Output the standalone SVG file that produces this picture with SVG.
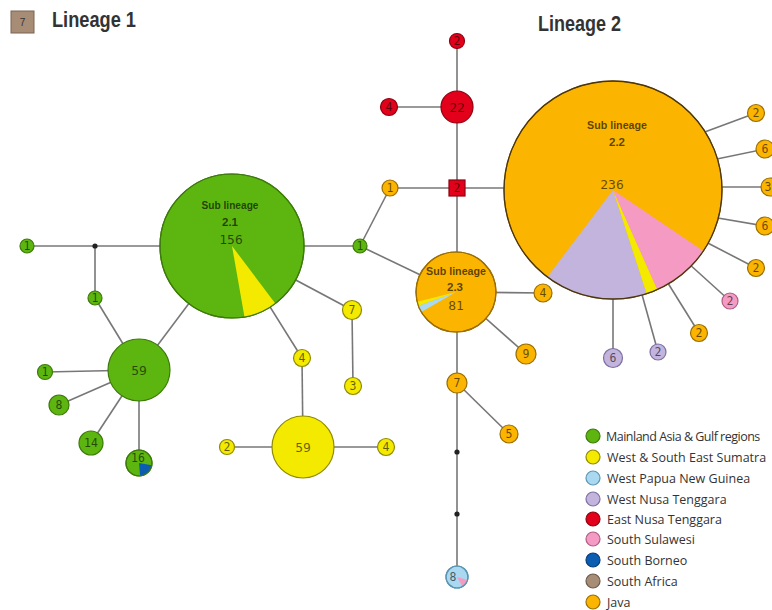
<svg xmlns="http://www.w3.org/2000/svg" width="772" height="610" viewBox="0 0 772 610">
<style>
.c{stroke:#777;stroke-width:1.6;fill:none}
.n{font-family:"DejaVu Sans Mono",monospace;fill:#000;fill-opacity:.6;text-anchor:middle;dominant-baseline:central;font-size:11.5px}
.big{font-size:13px}
.sl{font-family:"Liberation Sans",Arial,sans-serif;font-weight:bold;fill:#000;fill-opacity:.65;text-anchor:middle;font-size:11.5px}
.h{font-family:"Liberation Sans",Arial,sans-serif;font-weight:bold;fill:#333;font-size:22px}
.lg{font-family:"Open Sans","Liberation Sans",sans-serif;fill:#333;font-size:12.5px}
.g{fill:#5db50f;stroke:#3c7a0a;stroke-width:1.2}
.y{fill:#f4ea00;stroke:#8f8a00;stroke-width:1.2}
.o{fill:#fbb400;stroke:#9a6e00;stroke-width:1.2}
.r{fill:#e3001b;stroke:#8e0010;stroke-width:1.2}
.lv{fill:#c2b4dc;stroke:#7d70a2;stroke-width:1.2}
.pk{fill:#f59bc3;stroke:#b05c85;stroke-width:1.2}
.lb{fill:#a9d8f0;stroke:#5b97b3;stroke-width:1.2}
.bl{fill:#0b5db1;stroke:#063c78;stroke-width:1.2}
.br{fill:#a78c76;stroke:#6e5a4a;stroke-width:1.2}
.w{stroke:none}
</style>

<g id="header">
<rect x="11" y="11" width="23" height="22" fill="#a78c76" stroke="#7a6555" stroke-width="1"/>
<text x="22.5" y="26" font-family="Liberation Sans,Arial,sans-serif" font-size="10" fill="#333" text-anchor="middle">7</text>
<text class="h" x="52" y="27" textLength="84" lengthAdjust="spacingAndGlyphs">Lineage 1</text>
<text class="h" x="538" y="31" textLength="83" lengthAdjust="spacingAndGlyphs">Lineage 2</text>
</g>

<g id="connectors">
<line class="c" x1="27" y1="246" x2="360" y2="246"/>
<line class="c" x1="95" y1="246" x2="95" y2="298"/>
<line class="c" x1="95" y1="298" x2="139" y2="370"/>
<line class="c" x1="232" y1="246" x2="139" y2="370"/>
<line class="c" x1="232" y1="246" x2="352" y2="310"/>
<line class="c" x1="232" y1="246" x2="302" y2="358"/>
<line class="c" x1="352" y1="310" x2="353" y2="386"/>
<line class="c" x1="302" y1="358" x2="303" y2="447"/>
<line class="c" x1="227" y1="447" x2="386" y2="447"/>
<line class="c" x1="45" y1="372" x2="139" y2="370"/>
<line class="c" x1="59" y1="405" x2="139" y2="370"/>
<line class="c" x1="91" y1="443" x2="139" y2="370"/>
<line class="c" x1="139" y1="370" x2="139" y2="463"/>
<line class="c" x1="360" y1="246" x2="390" y2="188"/>
<line class="c" x1="360" y1="246" x2="456" y2="292"/>
<line class="c" x1="390" y1="188" x2="612" y2="188"/>
<line class="c" x1="457" y1="41" x2="457" y2="577"/>
<line class="c" x1="389" y1="107" x2="457" y2="107"/>
<line class="c" x1="456" y1="292" x2="543" y2="293"/>
<line class="c" x1="456" y1="292" x2="526" y2="354"/>
<line class="c" x1="457" y1="383" x2="509" y2="434"/>
<line class="c" x1="702" y1="133" x2="756" y2="113"/>
<line class="c" x1="712" y1="160" x2="765" y2="149"/>
<line class="c" x1="712" y1="187" x2="770" y2="187"/>
<line class="c" x1="712" y1="217" x2="765" y2="226"/>
<line class="c" x1="702" y1="240" x2="756" y2="268"/>
<line class="c" x1="688" y1="263" x2="730" y2="301"/>
<line class="c" x1="666" y1="280" x2="699" y2="333"/>
<line class="c" x1="641" y1="291" x2="658" y2="352"/>
<line class="c" x1="613" y1="290" x2="613" y2="358"/>
<circle cx="95" cy="246" r="2.6" fill="#222"/>
<circle cx="457" cy="452" r="2.6" fill="#222"/>
<circle cx="457" cy="514" r="2.6" fill="#222"/>
</g>

<g id="sub21">
<circle class="g" cx="232" cy="246" r="72"/>
<path class="y w" d="M232,246 L275.3,303.5 A72,72 0 0 1 244.5,316.9 Z"/>
<circle cx="232" cy="246" r="72" fill="none" stroke="#3c7a0a" stroke-width="1.2"/>
<text class="sl" x="230" y="209" textLength="57" lengthAdjust="spacingAndGlyphs">Sub lineage</text>
<text class="sl" x="230" y="226">2.1</text>
<text class="n big" x="231" y="239">156</text>
</g>

<g id="g1a"><circle class="g" cx="27" cy="246" r="7"/><text class="n" x="27" y="246">1</text></g>
<g id="g1b"><circle class="g" cx="95" cy="298" r="7"/><text class="n" x="95" y="298">1</text></g>
<g id="g1c"><circle class="g" cx="360" cy="246" r="7"/><text class="n" x="360" y="246">1</text></g>
<g id="g59"><circle class="g" cx="139" cy="370" r="31"/><text class="n big" x="139" y="370">59</text></g>
<g id="g1d"><circle class="g" cx="45" cy="372" r="7.5"/><text class="n" x="45" y="372">1</text></g>
<g id="g8"><circle class="g" cx="59" cy="405" r="10"/><text class="n" x="59" y="405">8</text></g>
<g id="g14"><circle class="g" cx="91" cy="443" r="12"/><text class="n" x="91" y="443">14</text></g>
<g id="g16">
<circle class="g" cx="139" cy="463" r="13"/>
<path class="bl w" d="M139,463 L151.8,465.3 A13,13 0 0 1 140.1,476 Z"/>
<circle cx="139" cy="463" r="13" fill="none" stroke="#3c7a0a" stroke-width="1.2"/>
<text class="n" x="138" y="458">16</text>
</g>

<g id="y7"><circle class="y" cx="352" cy="310" r="9.5"/><text class="n" x="352" y="310">7</text></g>
<g id="y3"><circle class="y" cx="353" cy="386" r="8.5"/><text class="n" x="353" y="386">3</text></g>
<g id="y4a"><circle class="y" cx="302" cy="358" r="8.5"/><text class="n" x="302" y="358">4</text></g>
<g id="y59"><circle class="y" cx="303" cy="447" r="31"/><text class="n big" x="303" y="447">59</text></g>
<g id="y2"><circle class="y" cx="227" cy="447" r="7.5"/><text class="n" x="227" y="447">2</text></g>
<g id="y4b"><circle class="y" cx="386" cy="447" r="8.5"/><text class="n" x="386" y="447">4</text></g>

<g id="r2"><circle class="r" cx="457" cy="41" r="7.5"/><text class="n" x="457" y="41">2</text></g>
<g id="r22"><circle class="r" cx="457" cy="107" r="16"/><text class="n big" x="457" y="107">22</text></g>
<g id="r4"><circle class="r" cx="389" cy="107" r="8.5"/><text class="n" x="389" y="107">4</text></g>
<g id="rsq"><rect class="r" x="449" y="180" width="16" height="16"/><text class="n" x="457" y="188">2</text></g>
<g id="o1"><circle class="o" cx="390" cy="188" r="8"/><text class="n" x="390" y="188">1</text></g>

<g id="sub23">
<circle class="o" cx="456" cy="292" r="40"/>
<path class="lb w" d="M456,292 L421.4,312 A40,40 0 0 1 418.4,305.7 Z"/>
<path class="y w" d="M456,292 L418.4,305.7 A40,40 0 0 1 417.2,301.7 Z"/>
<circle cx="456" cy="292" r="40" fill="none" stroke="#9a6e00" stroke-width="1.2"/>
<text class="sl" x="456" y="275" textLength="60" lengthAdjust="spacingAndGlyphs">Sub lineage</text>
<text class="sl" x="455" y="291">2.3</text>
<text class="n big" x="456" y="305">81</text>
</g>
<g id="o4"><circle class="o" cx="543" cy="293" r="9"/><text class="n" x="543" y="293">4</text></g>
<g id="o9"><circle class="o" cx="526" cy="354" r="10"/><text class="n" x="526" y="354">9</text></g>
<g id="o7"><circle class="o" cx="457" cy="383" r="10"/><text class="n" x="457" y="383">7</text></g>
<g id="o5"><circle class="o" cx="509" cy="434" r="9"/><text class="n" x="509" y="434">5</text></g>
<g id="lb8">
<circle class="lb" cx="457" cy="577" r="11"/>
<path class="pk w" d="M457,577 L467.6,579.9 A11,11 0 0 1 462.5,586.5 Z"/>
<circle cx="457" cy="577" r="11" fill="none" stroke="#5b97b3" stroke-width="1.2"/>
<text class="n" x="453" y="577">8</text>
</g>

<g id="sub22">
<circle class="o" cx="613" cy="190" r="109"/>
<path class="lv w" d="M613,190 L646.7,293.7 A109,109 0 0 1 547.4,277 Z"/>
<path class="y w" d="M613,190 L657.3,289.6 A109,109 0 0 1 646.7,293.7 Z"/>
<path class="pk w" d="M613,190 L703.4,250.9 A109,109 0 0 1 657.3,289.6 Z"/>
<circle cx="613" cy="190" r="109" fill="none" stroke="#4a3510" stroke-width="1.3"/>
<text class="sl" x="617" y="129" textLength="60" lengthAdjust="spacingAndGlyphs">Sub lineage</text>
<text class="sl" x="617" y="146">2.2</text>
<text class="n big" x="612" y="184">236</text>
</g>
<g id="o2a"><circle class="o" cx="756" cy="113" r="8.5"/><text class="n" x="756" y="113">2</text></g>
<g id="o6a"><circle class="o" cx="765" cy="149" r="9"/><text class="n" x="765" y="149">6</text></g>
<g id="o3"><circle class="o" cx="770" cy="187" r="9"/><text class="n" x="768" y="187">3</text></g>
<g id="o6b"><circle class="o" cx="765" cy="226" r="9"/><text class="n" x="765" y="226">6</text></g>
<g id="o2b"><circle class="o" cx="756" cy="268" r="8.5"/><text class="n" x="756" y="268">2</text></g>
<g id="pk2"><circle class="pk" cx="730" cy="301" r="8"/><text class="n" x="730" y="301">2</text></g>
<g id="o2c"><circle class="o" cx="699" cy="333" r="8.5"/><text class="n" x="699" y="333">2</text></g>
<g id="lv2"><circle class="lv" cx="658" cy="352" r="8"/><text class="n" x="658" y="352">2</text></g>
<g id="lv6"><circle class="lv" cx="613" cy="358" r="9.5"/><text class="n" x="613" y="358">6</text></g>

<g id="legend">
<circle class="g" cx="593" cy="436" r="7"/><text class="lg" x="606" y="441" letter-spacing="-0.5">Mainland Asia &amp; Gulf regions</text>
<circle class="y" cx="593" cy="457" r="7"/><text class="lg" x="607" y="462">West &amp; South East Sumatra</text>
<circle class="lb" cx="593" cy="478" r="7"/><text class="lg" x="607" y="483">West Papua New Guinea</text>
<circle class="lv" cx="593" cy="499" r="7"/><text class="lg" x="607" y="504">West Nusa Tenggara</text>
<circle class="r" cx="593" cy="519" r="7"/><text class="lg" x="607" y="524">East Nusa Tenggara</text>
<circle class="pk" cx="593" cy="539" r="7"/><text class="lg" x="607" y="544">South Sulawesi</text>
<circle class="bl" cx="593" cy="560" r="7"/><text class="lg" x="607" y="565">South Borneo</text>
<circle class="br" cx="593" cy="581" r="7"/><text class="lg" x="607" y="586">South Africa</text>
<circle class="o" cx="593" cy="602" r="7"/><text class="lg" x="607" y="607">Java</text>
</g>
</svg>
